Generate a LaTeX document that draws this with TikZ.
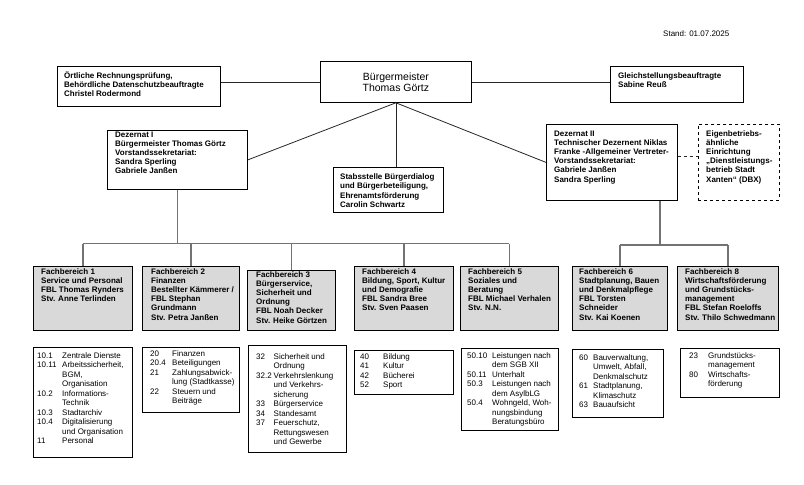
\documentclass[tikz,border=0pt]{standalone}
\usepackage{fontspec}
\setmainfont{Liberation Sans}
\usetikzlibrary{calc, positioning}

\begin{document}
\begin{tikzpicture}[x=1pt, y=-1pt,
    unit/.style={draw, rectangle, anchor=north west, inner sep=0pt, line width=0.8pt},
    dept/.style={unit, fill=black!15},
    txt/.style={anchor=base west, inner sep=0pt, font=\fontsize{8}{9.2}\selectfont\bfseries},
    lst/.style={anchor=base west, inner sep=0pt, font=\fontsize{8}{9.5}\selectfont},
    link/.style={draw=black!85, line width=0.8pt},
    tree/.style={draw=black!55, line width=1.3pt}]
    \useasboundingbox (0,0) rectangle (804,485);

    \node[anchor=base west, inner sep=0pt, font=\fontsize{8}{9.6}\selectfont] (stand) at (663,36) {Stand: 01.07.2025};

    % top row
    \node[unit, minimum width=151, minimum height=41,
        label={[anchor=base, inner sep=0pt, font=\fontsize{10.5}{11}\selectfont, yshift=-19.7pt]north:{\begin{tabular}[t]{@{}c@{}}Bürgermeister\\Thomas Görtz\end{tabular}}}] (bm) at (320,61) {};
    \node[unit, minimum width=163, minimum height=40,
        label={[txt, xshift=7pt, yshift=-12pt]north west:{\begin{tabular}[t]{@{}l@{}}Örtliche Rechnungsprüfung,\\Behördliche Datenschutzbeauftragte\\Christel Rodermond\end{tabular}}}] (rpa) at (57,66) {};
    \node[unit, minimum width=133, minimum height=36,
        label={[txt, xshift=8pt, yshift=-12pt]north west:{\begin{tabular}[t]{@{}l@{}}Gleichstellungsbeauftragte\\Sabine Reuß\end{tabular}}}] (gsb) at (610,66) {};

    % dezernate
    \node[unit, minimum width=140, minimum height=59,
        label={[txt, xshift=8pt, yshift=-7pt]north west:{\begin{tabular}[t]{@{}l@{}}Dezernat I\\Bürgermeister Thomas Görtz\\Vorstandssekretariat:\\Sandra Sperling\\Gabriele Janßen\end{tabular}}}] (dez1) at (107,130) {};
    \node[unit, minimum width=110, minimum height=45,
        label={[txt, xshift=7pt, yshift=-12.6pt]north west:{\begin{tabular}[t]{@{}l@{}}Stabsstelle Bürgerdialog\\und Bürgerbeteiligung,\\Ehrenamtsförderung\\Carolin Schwartz\end{tabular}}}] (stab) at (333,167) {};
    \node[unit, minimum width=131, minimum height=76,
        label={[txt, xshift=8pt, yshift=-12pt]north west:{\begin{tabular}[t]{@{}l@{}}Dezernat II\\Technischer Dezernent Niklas\\Franke -Allgemeiner Vertreter-\\Vorstandssekretariat:\\Gabriele Janßen\\Sandra Sperling\end{tabular}}}] (dez2) at (546,124) {};
    \node[unit, dashed, minimum width=81, minimum height=76,
        label={[txt, xshift=8pt, yshift=-12pt]north west:{\begin{tabular}[t]{@{}l@{}}Eigenbetriebs-\\ähnliche\\Einrichtung\\„Dienstleistungs-\\betrieb Stadt\\Xanten“ (DBX)\end{tabular}}}] (eig) at (698,124) {};

    % fachbereiche
    \node[dept, minimum width=99, minimum height=64,
        label={[txt, xshift=8pt, yshift=-8pt]north west:{\begin{tabular}[t]{@{}l@{}}Fachbereich 1\\Service und Personal\\FBL Thomas Rynders\\Stv. Anne Terlinden\end{tabular}}}] (fb1) at (33,266) {};
    \node[dept, minimum width=97, minimum height=64,
        label={[txt, xshift=9pt, yshift=-8pt]north west:{\begin{tabular}[t]{@{}l@{}}Fachbereich 2\\Finanzen\\Bestellter Kämmerer /\\FBL Stephan\\Grundmann\\Stv. Petra Janßen\end{tabular}}}] (fb2) at (142,266) {};
    \node[dept, minimum width=88, minimum height=60,
        label={[txt, xshift=9pt, yshift=-7pt]north west:{\begin{tabular}[t]{@{}l@{}}Fachbereich 3\\Bürgerservice,\\Sicherheit und\\Ordnung\\FBL Noah Decker\\Stv. Heike Görtzen\end{tabular}}}] (fb3) at (247,270) {};
    \node[dept, minimum width=99, minimum height=64,
        label={[txt, xshift=8pt, yshift=-8pt]north west:{\begin{tabular}[t]{@{}l@{}}Fachbereich 4\\Bildung, Sport, Kultur\\und Demografie\\FBL Sandra Bree\\Stv. Sven Paasen\end{tabular}}}] (fb4) at (354,266) {};
    \node[dept, minimum width=98, minimum height=64,
        label={[txt, xshift=8pt, yshift=-8pt]north west:{\begin{tabular}[t]{@{}l@{}}Fachbereich 5\\Soziales und\\Beratung\\FBL Michael Verhalen\\Stv. N.N.\end{tabular}}}] (fb5) at (460,266) {};
    \node[dept, minimum width=95, minimum height=64,
        label={[txt, xshift=7pt, yshift=-8pt]north west:{\begin{tabular}[t]{@{}l@{}}Fachbereich 6\\Stadtplanung, Bauen\\und Denkmalpflege\\FBL Torsten\\Schneider\\Stv. Kai Koenen\end{tabular}}}] (fb6) at (572,266) {};
    \node[dept, minimum width=101, minimum height=64,
        label={[txt, xshift=8pt, yshift=-8pt]north west:{\begin{tabular}[t]{@{}l@{}}Fachbereich 8\\Wirtschaftsförderung\\und Grundstücks-\\management\\FBL Stefan Roeloffs\\Stv. Thilo Schwedmann\end{tabular}}}] (fb8) at (677,266) {};

    % aemter
    \node[unit, minimum width=99, minimum height=110,
        label={[lst, xshift=4pt, yshift=-11pt]north west:{\begin{tabular}[t]{@{}p{25pt}@{}l@{}}10.1&Zentrale Dienste\\10.11&Arbeitssicherheit,\\&BGM,\\&Organisation\\10.2&Informations-\\&Technik\\10.3&Stadtarchiv\\10.4&Digitalisierung\\&und Organisation\\11&Personal\end{tabular}}}] (a10) at (33,347) {};
    \node[unit, minimum width=97, minimum height=65,
        label={[lst, xshift=8pt, yshift=-9pt]north west:{\begin{tabular}[t]{@{}p{22pt}@{}l@{}}20&Finanzen\\20.4&Beteiligungen\\21&Zahlungsabwick-\\&lung (Stadtkasse)\\22&Steuern und\\&Beiträge\end{tabular}}}] (a20) at (142,347) {};
    \node[unit, minimum width=98, minimum height=107,
        label={[lst, xshift=8pt, yshift=-14pt]north west:{\begin{tabular}[t]{@{}p{17.5pt}@{}l@{}}32&Sicherheit und\\&Ordnung\\32.2&Verkehrslenkung\\&und Verkehrs-\\&sicherung\\33&Bürgerservice\\34&Standesamt\\37&Feuerschutz,\\&Rettungswesen\\&und Gewerbe\end{tabular}}}] (a32) at (248,345) {};
    \node[unit, minimum width=99, minimum height=44,
        label={[lst, xshift=6pt, yshift=-9pt]north west:{\begin{tabular}[t]{@{}p{23pt}@{}l@{}}40&Bildung\\41&Kultur\\42&Bücherei\\52&Sport\end{tabular}}}] (a40) at (354,350) {};
    \node[unit, minimum width=97, minimum height=82,
        label={[lst, xshift=6pt, yshift=-10pt]north west:{\begin{tabular}[t]{@{}p{25pt}@{}l@{}}50.10&Leistungen nach\\&dem SGB XII\\50.11&Unterhalt\\50.3&Leistungen nach\\&dem AsylbLG\\50.4&Wohngeld, Woh-\\&nungsbindung\\&Beratungsbüro\end{tabular}}}] (a50) at (461,348) {};
    \node[unit, minimum width=91, minimum height=68,
        label={[lst, xshift=7pt, yshift=-11pt]north west:{\begin{tabular}[t]{@{}p{14pt}@{}l@{}}60&Bauverwaltung,\\&Umwelt, Abfall,\\&Denkmalschutz\\61&Stadtplanung,\\&Klimaschutz\\63&Bauaufsicht\end{tabular}}}] (a60) at (572,349) {};
    \node[unit, minimum width=99, minimum height=49,
        label={[lst, xshift=9pt, yshift=-10pt]north west:{\begin{tabular}[t]{@{}p{19pt}@{}l@{}}23&Grundstücks-\\&management\\80&Wirtschafts-\\&förderung\end{tabular}}}] (a80) at (680,348) {};

    % connectors
    \draw[link] (bm.west) -- (bm.west -| rpa.east);
    \draw[link] (bm.east) -- (bm.east -| gsb.west);
    \draw[link] (bm.south) -- (dez1.east);
    \draw[link] (bm.south) -- (dez2.west);
    \draw[link] (bm.south) -- (bm.south |- stab.north);
    \draw[link, dashed] ([yshift=6pt]dez2.east) -- ([yshift=6pt]eig.west);

    \coordinate (bus1) at ($(dez1.south)+(0,54)$);
    \coordinate (bus2) at (660,245);
    \draw[tree] (dez1.south) -- (bus1);
    \draw[tree] (fb1.north |- bus1) -- (fb5.north |- bus1);
    \foreach \f in {fb1,fb2,fb3,fb4,fb5}
        \draw[tree] (\f.north) -- (\f.north |- bus1);
    \draw[tree] (bus2 |- dez2.south) -- (bus2);
    \draw[tree] (fb6.north |- bus2) -- (fb8.north |- bus2);
    \foreach \f in {fb6,fb8}
        \draw[tree] (\f.north) -- (\f.north |- bus2);
\end{tikzpicture}
\end{document}
